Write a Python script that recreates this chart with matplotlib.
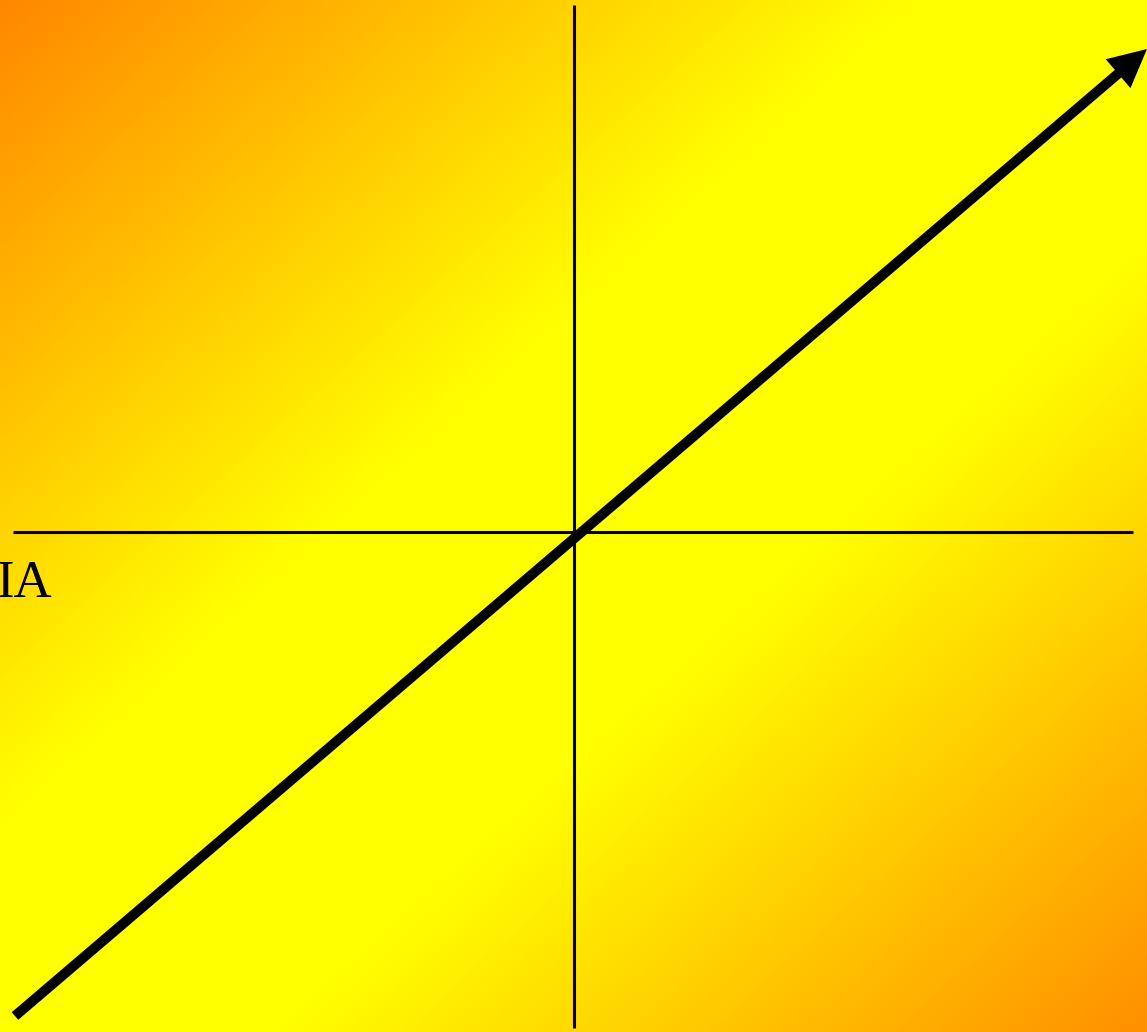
import numpy as np
import matplotlib.pyplot as plt
from matplotlib.colors import LinearSegmentedColormap

W, H = 1147, 1032
ORIGIN = (574, 532)  ## pixel where the two axes cross

## axis extents and trend arrow, in pixels measured from the crossing (y up)
x_axis = [-561, 559]
y_axis = [-496, 527]
trend_start = [-559, -484]
trend_end = [573, 483]
label_text = 'IA'
label_pos = [-522, -65]

fig = plt.figure(figsize=(W / 100, H / 100), dpi=100)
ax = fig.add_axes([0, 0, 1, 1])
ax.set_xlim(-ORIGIN[0], W - ORIGIN[0])
ax.set_ylim(-(H - ORIGIN[1]), ORIGIN[1])
ax.axis('off')

## diagonal background: orange corners, yellow band
bg = LinearSegmentedColormap.from_list(
    'bg', [(0, '#FF8800'), (0.40, '#FFFF00'), (0.62, '#FFFF00'), (1, '#FF9000')])
px, py = np.meshgrid(np.linspace(0, 1, 400), np.linspace(0, 1, 400))
ax.imshow((px + py) / 2, cmap=bg, vmin=0, vmax=1, aspect='auto',
          extent=[-ORIGIN[0], W - ORIGIN[0], -(H - ORIGIN[1]), ORIGIN[1]], zorder=0)

ax.plot(x_axis, [0, 0], color='black', lw=2.2, solid_capstyle='butt', zorder=2)
ax.plot([0, 0], y_axis, color='black', lw=2.2, solid_capstyle='butt', zorder=2)

ax.arrow(trend_start[0], trend_start[1],
         trend_end[0] - trend_start[0], trend_end[1] - trend_start[1],
         width=10, head_width=38, head_length=38, length_includes_head=True,
         fc='black', ec='none', zorder=3)

ax.text(label_pos[0], label_pos[1], label_text, ha='right', va='baseline',
        fontsize=38, family='Liberation Serif', color='black', zorder=3)

fig.savefig('out.png', dpi=100)
